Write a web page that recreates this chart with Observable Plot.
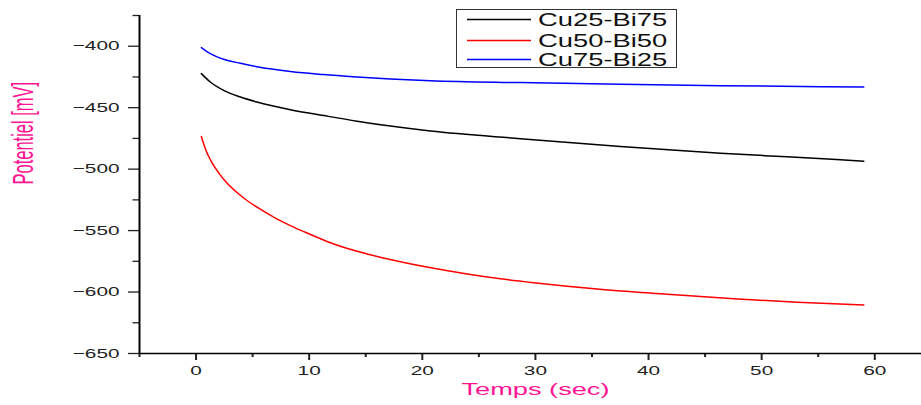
<!DOCTYPE html>
<html><head><meta charset="utf-8">
<script src="https://cdn.jsdelivr.net/npm/d3@7"></script>
<script src="https://cdn.jsdelivr.net/npm/@observablehq/plot@0.6"></script>
<style>
body{margin:0;background:#fff;}
#wrap{position:relative;width:921px;height:405px;overflow:hidden;background:#fff;}
#legend{position:absolute;left:456px;top:9px;width:219px;height:57px;border:1px solid #333;background:#fff;box-sizing:content-box;}
.lrow{position:absolute;left:0;width:219px;height:20px;}
.lrow svg{position:absolute;left:10px;top:0;width:64px;height:20px;overflow:visible;}
.ltext{position:absolute;left:81px;top:0;height:20px;line-height:20px;font-family:"Liberation Sans",Arial,sans-serif;font-size:18px;color:#111;transform:scaleX(1.52);transform-origin:left center;white-space:nowrap;}
</style></head><body><div id="wrap"></div>
<script>
const seriesNames = ["Cu25-Bi75", "Cu50-Bi50", "Cu75-Bi25"];
const seriesColors = ["#000000", "#ff0000", "#0000ff"];

// Cu25-Bi75 (black)
const tA = [0.47, 1.26, 2.44, 3.92, 5.39, 8.34, 11.28, 14.23, 17.18, 20.72, 28.67, 37.52, 46.36, 52.25, 59.03];
const vA = [-422.3, -429.1, -435.9, -441.3, -445.4, -451.6, -456.4, -461.0, -465.0, -469.0, -475.2, -481.5, -487.0, -490.0, -493.5];
// Cu50-Bi50 (red)
const tB = [0.47, 0.88, 1.33, 2.0, 2.65, 3.47, 4.21, 5.39, 6.86, 8.34, 9.81, 10.84, 12.17, 15.12, 18.06, 21.01, 23.96, 26.9, 29.85, 35.45, 41.34, 47.24, 53.14, 59.03];
const vB = [-473.4, -484.8, -493.5, -503.0, -510.5, -517.8, -523.5, -531.0, -539.0, -545.9, -552.0, -556.0, -560.9, -569.0, -575.3, -580.7, -585.3, -589.2, -592.4, -597.5, -601.6, -605.2, -608.4, -610.6];
// Cu75-Bi25 (blue)
const tC = [0.47, 1.26, 2.44, 3.92, 5.39, 8.34, 11.28, 14.23, 17.18, 20.72, 28.67, 37.52, 46.36, 59.03];
const vC = [-401.1, -406.0, -410.6, -413.9, -416.7, -420.6, -423.1, -425.0, -426.6, -428.0, -429.6, -431.0, -432.1, -433.2];

const xMajor = [0, 10, 20, 30, 40, 50, 60];
const xMinor = [-5, 5, 15, 25, 35, 45, 55];
const yMajor = [-650, -600, -550, -500, -450, -400];
const yMinor = [-625, -575, -525, -475, -425, -375];
const xLabel = "Temps (sec)";
const yLabel = "Potentiel [mV]";

const toRows = (ts, vs, name) => ts.map((t, i) => ({t, v: vs[i], name}));
const data = [
  ...toRows(tA, vA, seriesNames[0]),
  ...toRows(tB, vB, seriesNames[1]),
  ...toRows(tC, vC, seriesNames[2])
];

const pink = "#ff1493";
const chart = Plot.plot({
  width: 921, height: 405,
  marginLeft: 139, marginRight: 0, marginTop: 15, marginBottom: 52,
  style: {fontFamily: "'Liberation Sans', Arial, sans-serif", fontSize: "13px", color: "#222", background: "white"},
  x: {domain: [-5, 64.13]},
  y: {domain: [-650, -375]},
  color: {domain: seriesNames, range: seriesColors},
  marks: [
    Plot.axisX({ticks: xMajor, tickSize: 7, tickPadding: 5, label: null, strokeWidth: 2}),
    Plot.axisX({ticks: xMinor, tickSize: 4, text: null, label: null, strokeWidth: 2}),
    Plot.axisY({ticks: yMajor, tickSize: 11, tickPadding: 9, label: null, strokeWidth: 1.3}),
    Plot.axisY({ticks: yMinor, tickSize: 6.5, text: null, label: null, strokeWidth: 1.3}),
    Plot.ruleX([-5], {stroke: "#000", strokeWidth: 2}),
    Plot.ruleY([-650], {stroke: "#000", strokeWidth: 1.4}),
    Plot.line(data, {x: "t", y: "v", z: "name", stroke: "name", strokeWidth: 1.5, curve: "monotone-x"}),
    Plot.text([xLabel], {text: d => d, frameAnchor: "bottom", dy: 41, dx: 5, fill: pink, fontSize: 17}),
    Plot.text([yLabel], {text: d => d, frameAnchor: "left", rotate: -90, dx: -116, fill: pink, fontSize: 16.5})
  ]
});

chart.querySelectorAll("text").forEach(t => {
  const tr = t.getAttribute("transform");
  const isRot = tr && tr.includes("rotate");
  const s = isRot ? "scale(1.75,1)" : "scale(1.6,1)";
  if (tr && /^translate\([^)]*\)/.test(tr)) {
    t.setAttribute("transform", tr.replace(/^(translate\([^)]*\))/, "$1 " + s));
  } else if (tr == null) {
    const x = +t.getAttribute("x") || 0, y = +t.getAttribute("y") || 0;
    t.removeAttribute("x"); t.removeAttribute("y");
    t.setAttribute("transform", `translate(${x},${y}) ${s}`);
  }
});

const wrap = document.getElementById("wrap");
wrap.appendChild(chart);
const legend = document.createElement("div");
legend.id = "legend";
const rowTops = [0, 20.5, 40];
const NS = "http://www.w3.org/2000/svg";
seriesNames.forEach((name, i) => {
  const row = document.createElement("div");
  row.className = "lrow";
  row.style.top = rowTops[i] + "px";
  const svg = document.createElementNS(NS, "svg");
  svg.setAttribute("width", "64"); svg.setAttribute("height", "20");
  const ln = document.createElementNS(NS, "line");
  ln.setAttribute("x1", "0"); ln.setAttribute("x2", "64");
  ln.setAttribute("y1", "9.5"); ln.setAttribute("y2", "9.5");
  ln.setAttribute("stroke", seriesColors[i]);
  ln.setAttribute("stroke-width", "1.6");
  svg.appendChild(ln);
  const txt = document.createElement("div");
  txt.className = "ltext";
  txt.textContent = name;
  row.appendChild(svg); row.appendChild(txt);
  legend.appendChild(row);
});
wrap.appendChild(legend);
</script>
</body></html>
